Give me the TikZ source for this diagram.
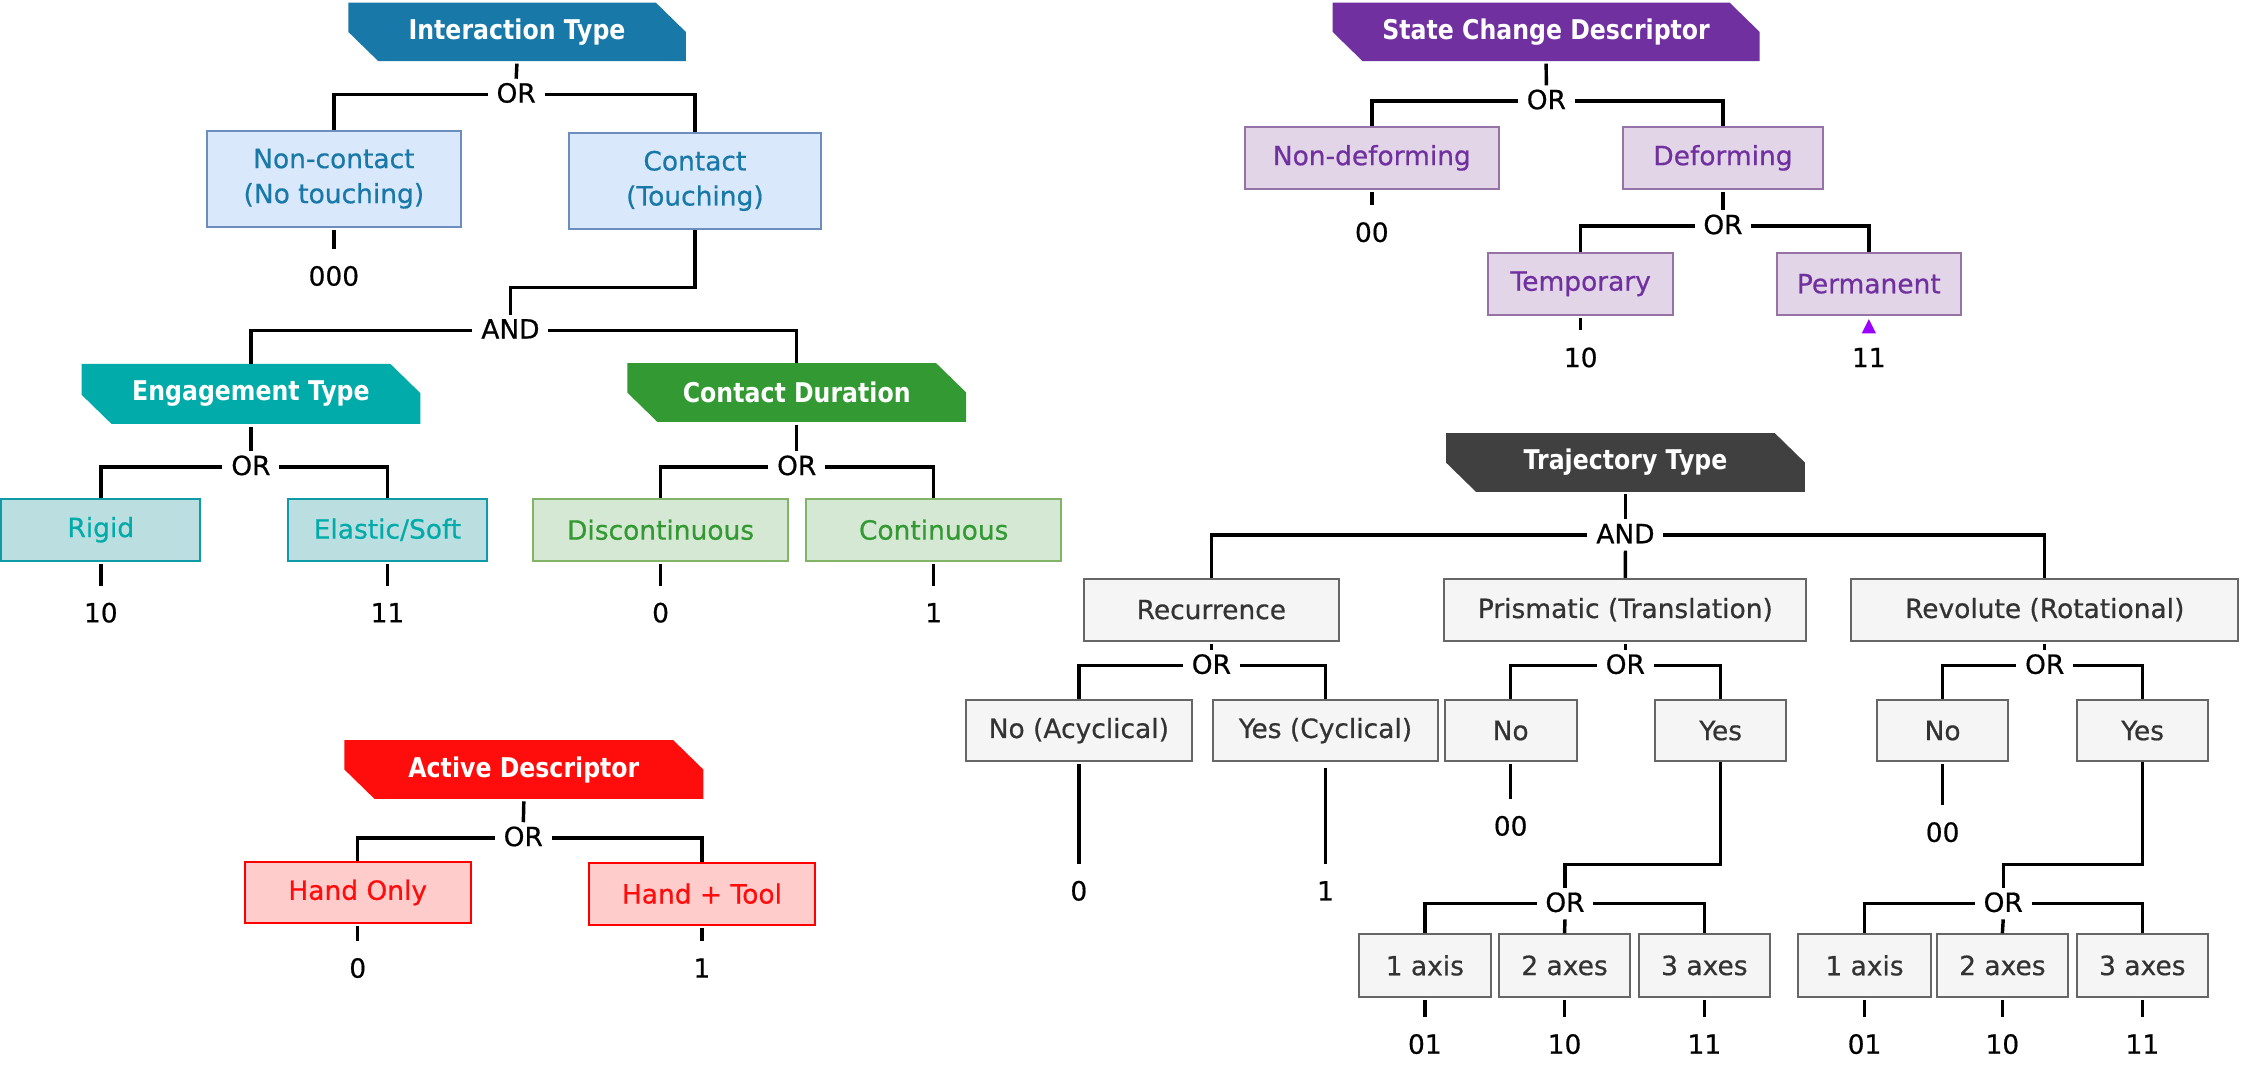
\documentclass[tikz,border=0pt]{standalone}
\usepackage{fontspec}
\setmainfont{DejaVu Sans}[FakeBold=0.6]
\newfontfamily\bannerfont{DejaVu Sans}[FakeStretch=0.87]
\definecolor{itc}{HTML}{1878A8}
\definecolor{itfill}{HTML}{DAE8FC}
\definecolor{itdraw}{HTML}{6C8EBF}
\definecolor{egc}{HTML}{00ABA9}
\definecolor{egfill}{HTML}{BBDFE0}
\definecolor{egdraw}{HTML}{0E9AA7}
\definecolor{cdc}{HTML}{339933}
\definecolor{cdfill}{HTML}{D5E8D4}
\definecolor{cddraw}{HTML}{82B366}
\definecolor{adc}{HTML}{FF0D0D}
\definecolor{adfill}{HTML}{FFCCCC}
\definecolor{addraw}{HTML}{FF0000}
\definecolor{scc}{HTML}{7030A0}
\definecolor{scfill}{HTML}{E1D5E7}
\definecolor{scdraw}{HTML}{9673A6}
\definecolor{tjc}{HTML}{404040}
\definecolor{tjfill}{HTML}{F5F5F5}
\definecolor{tjdraw}{HTML}{666666}
\definecolor{tjtext}{HTML}{333333}
\definecolor{tric}{HTML}{9900FF}
\tikzset{
  conn/.style={line width=2.4pt, black},
  banner/.style={minimum height=41pt, inner sep=0pt, text=white,
    font=\bannerfont\bfseries\fontsize{19}{22}\selectfont,
    path picture={\fill[#1] (path picture bounding box.north west)
      -- ([xshift=-21pt]path picture bounding box.north east)
      -- ([yshift=-20.5pt]path picture bounding box.north east)
      -- (path picture bounding box.south east)
      -- ([xshift=21pt]path picture bounding box.south west)
      -- ([yshift=20.5pt]path picture bounding box.south west) -- cycle;}},
  leaf/.style={draw, line width=1.4pt, inner sep=0pt, align=center,
    font=\fontsize{18.5}{24.5}\selectfont},
  itbox/.style={leaf, fill=itfill, draw=itdraw, text=itc},
  egbox/.style={leaf, fill=egfill, draw=egdraw, text=egc},
  cdbox/.style={leaf, fill=cdfill, draw=cddraw, text=cdc},
  adbox/.style={leaf, fill=adfill, draw=addraw, text=adc},
  scbox/.style={leaf, fill=scfill, draw=scdraw, text=scc},
  tjbox/.style={leaf, fill=tjfill, draw=tjdraw, text=tjtext},
  gate/.style={inner xsep=6pt, inner ysep=3pt, text height=13.5pt, text depth=2pt,
    font=\fontsize{18.5}{22}\selectfont},
  code/.style={inner sep=0pt, text height=13.5pt, text depth=0pt,
    font=\fontsize{18.5}{22}\selectfont},
  drop/.style={conn, shorten <=1.5pt, shorten >=12pt},
}
\begin{document}
\begin{tikzpicture}[x=1pt,y=-1pt]
\path[fill=white, use as bounding box] (0,0) rectangle (1568,754);

% ---------------- Interaction Type ----------------
\node[banner=itc, minimum width=236pt] (it) at (361.6,22.3) {Interaction Type};
\node[gate] (or1) at (361,66) {OR};
\node[itbox, minimum width=178pt, minimum height=67pt] (nc) at (233.5,125) {Non-contact\\(No touching)};
\node[itbox, minimum width=176pt, minimum height=67pt] (ct) at (486,126.5) {Contact\\(Touching)};
\node[code] (c000) at (233.5,193) {000};
\coordinate (j1) at (0,201);
\node[gate] (and1) at (357,231) {AND};
\draw[conn, shorten <=1.5pt] (it.south) -- (or1.north);
\draw[conn] (or1.west) -| (nc.north);
\draw[conn] (or1.east) -| (ct.north);
\draw[drop] (nc.south) -- (c000.north);
\draw[conn] (ct.south) -- (ct.south |- j1) -| (and1.north);

% ---------------- Engagement Type ----------------
\node[banner=egc, minimum width=237pt, minimum height=42pt] (eg) at (175.5,275.5) {Engagement Type};
\node[gate] (or2) at (175.5,326.5) {OR};
\node[egbox, minimum width=139pt, minimum height=43.5pt] (rg) at (70.5,370.5) {Rigid};
\node[egbox, minimum width=139pt, minimum height=43.5pt] (el) at (271,370.5) {Elastic/Soft};
\node[code] (c10a) at (70.5,428.5) {10};
\node[code] (c11a) at (271,428.5) {11};
\draw[conn] (and1.west) -| (eg.north);
\draw[conn, shorten <=2pt] (eg.south) -- (or2.north);
\draw[conn] (or2.west) -| (rg.north);
\draw[conn] (or2.east) -| (el.north);
\draw[drop] (rg.south) -- (c10a.north);
\draw[drop] (el.south) -- (c11a.north);

% ---------------- Contact Duration ----------------
\node[banner=cdc, minimum width=237pt] (cd) at (557.2,274.5) {Contact Duration};
\node[gate] (or3) at (557.2,326.5) {OR};
\node[cdbox, minimum width=178pt, minimum height=43.5pt] (dc) at (462,370.5) {Discontinuous};
\node[cdbox, minimum width=178pt, minimum height=43.5pt] (co) at (653,370.5) {Continuous};
\node[code] (c0a) at (462,428.5) {0};
\node[code] (c1a) at (653,428.5) {1};
\draw[conn] (and1.east) -| (cd.north);
\draw[conn, shorten <=2pt] (cd.south) -- (or3.north);
\draw[conn] (or3.west) -| (dc.north);
\draw[conn] (or3.east) -| (co.north);
\draw[drop] (dc.south) -- (c0a.north);
\draw[drop] (co.south) -- (c1a.north);

% ---------------- Active Descriptor ----------------
\node[banner=adc, minimum width=251pt] (ad) at (366.4,538.2) {Active Descriptor};
\node[gate] (or4) at (366,586) {OR};
\node[adbox, minimum width=158.4pt, minimum height=42pt] (ho) at (250.2,624.2) {Hand Only};
\node[adbox, minimum width=158.4pt, minimum height=43.5pt] (ht) at (490.9,625) {Hand + Tool};
\node[code] (c0b) at (250.2,677) {0};
\node[code] (c1b) at (490.9,677) {1};
\draw[conn, shorten <=1.5pt] (ad.south) -- (or4.north);
\draw[conn] (or4.west) -| (ho.north);
\draw[conn] (or4.east) -| (ht.north);
\draw[drop] (ho.south) -- (c0b.north);
\draw[drop] (ht.south) -- (c1b.north);

% ---------------- State Change Descriptor ----------------
\node[banner=scc, minimum width=298.6pt] (sc) at (1081.3,22.3) {State Change Descriptor};
\node[gate] (or5) at (1081.5,70.6) {OR};
\node[scbox, minimum width=177.7pt, minimum height=43.6pt] (nd) at (959.4,110.4) {Non-deforming};
\node[scbox, minimum width=140pt, minimum height=43.6pt] (df) at (1205,110.4) {Deforming};
\node[code] (c00a) at (959.4,162.4) {00};
\node[gate] (or6) at (1205,158) {OR};
\node[scbox, minimum width=129pt, minimum height=43.6pt] (tp) at (1105.5,198.5) {Temporary};
\node[scbox, minimum width=128.7pt, minimum height=43.6pt] (pm) at (1307,198.5) {Permanent};
\node[code] (c10b) at (1105.5,250) {10};
\node[code] (c11b) at (1307,250) {11};
\draw[conn, shorten <=1.5pt] (sc.south) -- (or5.north);
\draw[conn] (or5.west) -| (nd.north);
\draw[conn] (or5.east) -| (df.north);
\draw[drop] (nd.south) -- (c00a.north);
\draw[conn, shorten <=1.5pt] (df.south) -- (or6.north);
\draw[conn] (or6.west) -| (tp.north);
\draw[conn] (or6.east) -| (pm.north);
\draw[drop] (tp.south) -- (c10b.north);
\fill[tric] ([yshift=-2.2pt]pm.south) -- ([xshift=-5pt,yshift=-12.2pt]pm.south) -- ([xshift=5pt,yshift=-12.2pt]pm.south) -- cycle;

% ---------------- Trajectory Type ----------------
\node[banner=tjc, minimum width=251pt] (tj) at (1136.8,323.5) {Trajectory Type};
\node[gate] (and2) at (1136.8,374.2) {AND};
\node[tjbox, minimum width=178pt, minimum height=43.2pt] (rc) at (847.2,426.4) {Recurrence};
\node[tjbox, minimum width=253pt, minimum height=43.2pt] (pr) at (1136.7,426.4) {Prismatic (Translation)};
\node[tjbox, minimum width=271pt, minimum height=43.2pt] (rv) at (1430,426.4) {Revolute (Rotational)};
\draw[conn, shorten <=1.5pt] (tj.south) -- (and2.north);
\draw[conn] (and2.west) -| (rc.north);
\draw[conn] (and2.east) -| (rv.north);
\draw[conn] (and2.south) -- (pr.north);

% Recurrence
\node[gate] (or7) at (847.2,465.5) {OR};
\node[tjbox, minimum width=158pt, minimum height=42.4pt] (na) at (754.5,511) {No (Acyclical)};
\node[tjbox, minimum width=158pt, minimum height=42.4pt] (yc) at (927,511) {Yes (Cyclical)};
\node[code] (c0c) at (754.5,623) {0};
\node[code] (c1c) at (927,623) {1};
\draw[conn, shorten <=1.5pt] (rc.south) -- (or7.north);
\draw[conn] (or7.west) -| (na.north);
\draw[conn] (or7.east) -| (yc.north);
\draw[drop] (na.south) -- (c0c.north);
\draw[drop, shorten <=4pt] (yc.south) -- (c1c.north);

% Prismatic
\node[gate] (or8) at (1136.7,465.5) {OR};
\node[tjbox, minimum width=92.5pt, minimum height=42.4pt] (np) at (1056.5,511) {No};
\node[tjbox, minimum width=92pt, minimum height=42.4pt] (yp) at (1203.4,511) {Yes};
\node[code] (c00b) at (1056.5,577.6) {00};
\draw[conn, shorten <=1.5pt] (pr.south) -- (or8.north);
\draw[conn] (or8.west) -| (np.north);
\draw[conn] (or8.east) -| (yp.north);
\draw[drop] (np.south) -- (c00b.north);
\coordinate (j2) at (0,604.6);
\node[gate] (or9) at (1094.5,632) {OR};
\draw[conn] (yp.south) -- (yp.south |- j2) -| (or9.north);
\node[tjbox, minimum width=92.4pt, minimum height=43.6pt] (pa1) at (996.5,675.2) {1 axis};
\node[tjbox, minimum width=92pt, minimum height=43.6pt] (pa2) at (1094.2,675.2) {2 axes};
\node[tjbox, minimum width=92pt, minimum height=43.6pt] (pa3) at (1192,675.2) {3 axes};
\draw[conn] (or9.west) -| (pa1.north);
\draw[conn] (or9.east) -| (pa3.north);
\draw[conn] (or9.south) -- (pa2.north);
\node[code] (cp1) at (996.5,730.2) {01};
\node[code] (cp2) at (1094.2,730.2) {10};
\node[code] (cp3) at (1192,730.2) {11};
\draw[drop] (pa1.south) -- (cp1.north);
\draw[drop] (pa2.south) -- (cp2.north);
\draw[drop] (pa3.south) -- (cp3.north);

% Revolute
\node[gate] (or10) at (1430,465.5) {OR};
\node[tjbox, minimum width=92pt, minimum height=42.4pt] (nr) at (1358.6,511) {No};
\node[tjbox, minimum width=92pt, minimum height=42.4pt] (yr) at (1498.5,511) {Yes};
\node[code] (c00c) at (1358.6,582) {00};
\draw[conn, shorten <=1.5pt] (rv.south) -- (or10.north);
\draw[conn] (or10.west) -| (nr.north);
\draw[conn] (or10.east) -| (yr.north);
\draw[drop] (nr.south) -- (c00c.north);
\node[gate] (or11) at (1401,632) {OR};
\draw[conn] (yr.south) -- (yr.south |- j2) -| (or11.north);
\node[tjbox, minimum width=92.4pt, minimum height=43.6pt] (ra1) at (1304,675.2) {1 axis};
\node[tjbox, minimum width=92pt, minimum height=43.6pt] (ra2) at (1400.4,675.2) {2 axes};
\node[tjbox, minimum width=92pt, minimum height=43.6pt] (ra3) at (1498.3,675.2) {3 axes};
\draw[conn] (or11.west) -| (ra1.north);
\draw[conn] (or11.east) -| (ra3.north);
\draw[conn] (or11.south) -- (ra2.north);
\node[code] (cr1) at (1304,730.2) {01};
\node[code] (cr2) at (1400.4,730.2) {10};
\node[code] (cr3) at (1498.3,730.2) {11};
\draw[drop] (ra1.south) -- (cr1.north);
\draw[drop] (ra2.south) -- (cr2.north);
\draw[drop] (ra3.south) -- (cr3.north);
\end{tikzpicture}
\end{document}
